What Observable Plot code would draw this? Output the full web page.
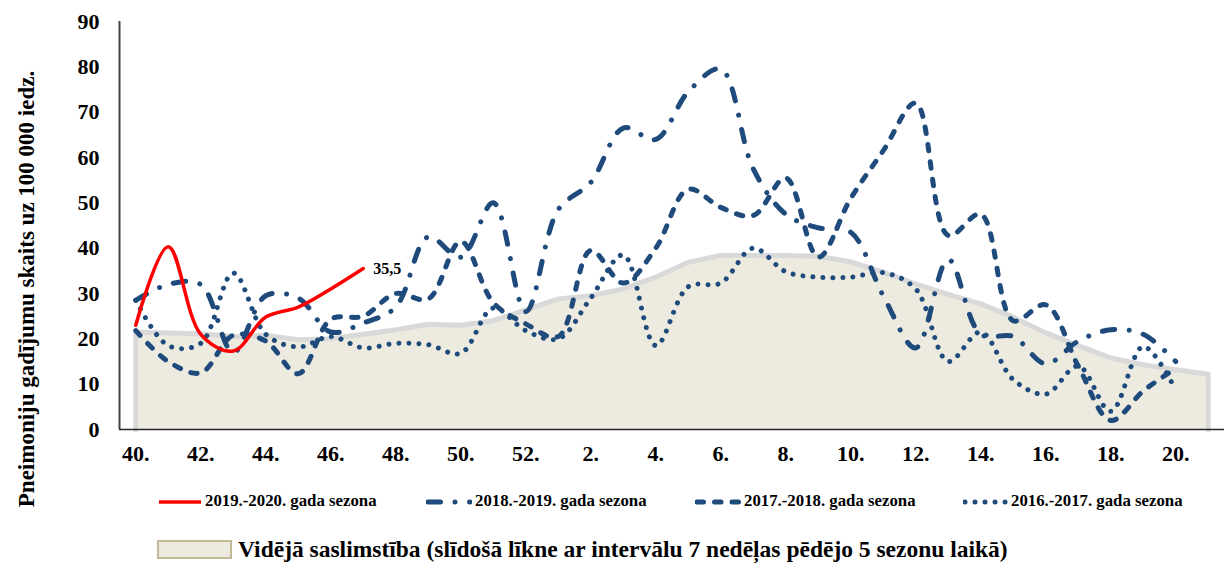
<!DOCTYPE html>
<html>
<head>
<meta charset="utf-8">
<script src="https://cdn.jsdelivr.net/npm/d3@7"></script>
<script src="https://cdn.jsdelivr.net/npm/@observablehq/plot@0.6"></script>
<style>
  html, body { margin: 0; padding: 0; background: #fff; }
  #wrap { position: relative; width: 1224px; height: 568px; overflow: hidden;
          font-family: "Liberation Serif", "Times New Roman", serif; font-weight: bold; color: #000; }
  #chart { position: absolute; left: 0; top: 0; }
  .ytitle { position: absolute; left: 27px; top: 289px; transform: translate(-50%, -50%) rotate(-90deg);
            white-space: nowrap; font-size: 23px; }
  .leg { position: absolute; display: flex; align-items: center; white-space: nowrap; }
  .leg svg { display: block; }
  .leg1 { font-size: 16.8px; }
  .leg2 { font-size: 23.5px; }
  .swatch { width: 71px; height: 15px; background: #EDEAE0; border: 2px solid #C4B996; }
</style>
</head>
<body>
<div id="wrap">
  <div id="chart"></div>
</div>
<script>
// ---- data ----
const weekNumbers = [40,41,42,43,44,45,46,47,48,49,50,51,52,1,2,3,4,5,6,7,8,9,10,11,12,13,14,15,16,17,18,19,20,21];
const yTicks = [0,10,20,30,40,50,60,70,80,90];

// moving average of the last 5 seasons (area)
const avgRate = [21.5,21.3,21.1,20.5,20.8,19.8,20,21,22,23.2,23,24,26.4,28.8,29.5,31,33.6,36.9,38.4,38.4,38.4,38.2,37,34.7,32.1,29.8,27.7,24.8,21.3,18.5,15.8,14.3,13.2,12.2];
const season2019 = [23,40.3,21,17.3,24.8,27,31,35.5];
const season2018 = [28.5,32,32,17,29.5,29,21.5,23.5,27,42.5,38,50,26,48.5,54.5,66.5,64,74.5,79.5,57.5,47.5,44.5,43.5,29.5,18,37.5,21,20.5,14.5,19.5,22,21,15];
const season2017 = [21.8,15,12.5,20.8,19.5,12.3,24.3,25,30,28.8,41.5,28,23.3,20.5,39.5,32.3,40,53,49,47.2,55.5,38,51,61.5,72,42.8,47.5,24,27.5,14,2,8.5,13.5];
const season2016 = [28.5,18.5,19,34.5,21,18.2,20.5,18,19,18.7,16.8,26.8,21.8,20,29,38.5,18.5,31.5,32.3,40,34.8,33.6,33.6,34.6,31,15,21.5,11,7.8,14,4,18.3,8.7];

const seriesNames = ["2019.-2020. gada sezona","2018.-2019. gada sezona","2017.-2018. gada sezona","2016.-2017. gada sezona"];
const areaName = "Vidējā saslimstība (slīdošā līkne ar intervālu 7 nedēļas pēdējo 5 sezonu laikā)";
const yTitle = "Pneimoniju gadījumu skaits uz 100 000 iedz.";

// ---- styles ----
const blue = "#1F4A7C";
const red = "#FF0000";
const styles = [
  {stroke: red,  strokeWidth: 3.5, dash: null},
  {stroke: blue, strokeWidth: 5, dash: "12.5,14.5,0.01,14.5"},
  {stroke: blue, strokeWidth: 5, dash: "6.5,11"},
  {stroke: blue, strokeWidth: 5, dash: "0.01,10"}
];

const rows = arr => arr.map((v, i) => ({i, v}));
const avgRows = rows(avgRate);
const outline = [{i: 0, v: 0}, ...avgRows, {i: avgRows.length - 1, v: 0}];
const xDomain = [-0.5, weekNumbers.length - 0.5];
const yDomain = [0, 90];
const tickIdx = weekNumbers.map((w, i) => i).filter(i => weekNumbers[i] % 2 === 0 && weekNumbers[i] !== 21);

const seriesData = [season2019, season2018, season2017, season2016];
const lineMark = (k) => Plot.line(rows(seriesData[k]), {
  x: "i", y: "v", curve: "catmull-rom",
  stroke: styles[k].stroke, strokeWidth: styles[k].strokeWidth,
  strokeDasharray: styles[k].dash || undefined,
  strokeLinecap: "round", strokeLinejoin: "round"
});
const lastRed = rows(season2019).slice(-1);

const chart = Plot.plot({
  width: 1224, height: 470,
  marginLeft: 119, marginRight: 0, marginTop: 21, marginBottom: 41,
  style: {fontFamily: "'Liberation Serif', 'Times New Roman', serif", fontWeight: "bold", background: "transparent"},
  x: {domain: xDomain, axis: null},
  y: {domain: yDomain, axis: null},
  marks: [
    Plot.areaY(avgRows, {x: "i", y: "v", fill: "#EDEAE0"}),
    Plot.line(outline, {x: "i", y: "v", stroke: "#D9D9D9", strokeWidth: 5, strokeLinejoin: "round"}),
    lineMark(3),
    lineMark(2),
    lineMark(1),
    lineMark(0),
    Plot.text(lastRed, {x: "i", y: "v", text: d => String(d.v).replace(".", ","), dx: 10, textAnchor: "start", fontSize: 16, fontWeight: "bold", fill: "#000"}),
    Plot.ruleY([yDomain[0]], {stroke: "#262626", strokeWidth: 1.5}),
    Plot.ruleX([xDomain[0]], {y1: yDomain[0], y2: yDomain[1], stroke: "#404040", strokeWidth: 2}),
    Plot.axisY({ticks: yTicks, tickSize: 0, tickPadding: 20, fontSize: 22, fontWeight: "bold", label: null}),
    Plot.axisX({ticks: tickIdx, tickFormat: i => weekNumbers[i] + ".", tickSize: 0, tickPadding: 16, fontSize: 22, fontWeight: "bold", label: null})
  ]
});
document.getElementById("chart").appendChild(chart);

// ---- y title ----
const wrap = document.getElementById("wrap");
const yt = document.createElement("div");
yt.className = "ytitle";
yt.textContent = yTitle;
wrap.appendChild(yt);

// ---- legend ----
const legendPos = [
  {left: 157, text: 205},
  {left: 426, text: 475},
  {left: 695, text: 744},
  {left: 963, text: 1011}
];
seriesNames.forEach((name, k) => {
  const s = styles[k];
  const sw = document.createElementNS("http://www.w3.org/2000/svg", "svg");
  sw.setAttribute("width", 46); sw.setAttribute("height", 10);
  const ln = document.createElementNS("http://www.w3.org/2000/svg", "line");
  ln.setAttribute("x1", 2); ln.setAttribute("x2", 44); ln.setAttribute("y1", 5); ln.setAttribute("y2", 5);
  ln.setAttribute("stroke", s.stroke); ln.setAttribute("stroke-width", s.strokeWidth);
  ln.setAttribute("stroke-linecap", k === 0 ? "butt" : "round");
  if (s.dash) ln.setAttribute("stroke-dasharray", s.dash);
  sw.appendChild(ln);
  const a = document.createElement("div");
  a.className = "leg leg1";
  a.style.left = legendPos[k].left + "px"; a.style.top = "497px";
  a.appendChild(sw);
  wrap.appendChild(a);
  const t = document.createElement("div");
  t.className = "leg leg1";
  t.style.left = legendPos[k].text + "px"; t.style.top = "491px";
  t.textContent = name;
  wrap.appendChild(t);
});
const l2 = document.createElement("div");
l2.className = "leg leg2";
l2.style.left = "157px"; l2.style.top = "536px";
const swb = document.createElement("div"); swb.className = "swatch";
const l2t = document.createElement("span"); l2t.textContent = areaName; l2t.style.marginLeft = "6px";
l2.appendChild(swb); l2.appendChild(l2t);
wrap.appendChild(l2);
</script>
</body>
</html>
